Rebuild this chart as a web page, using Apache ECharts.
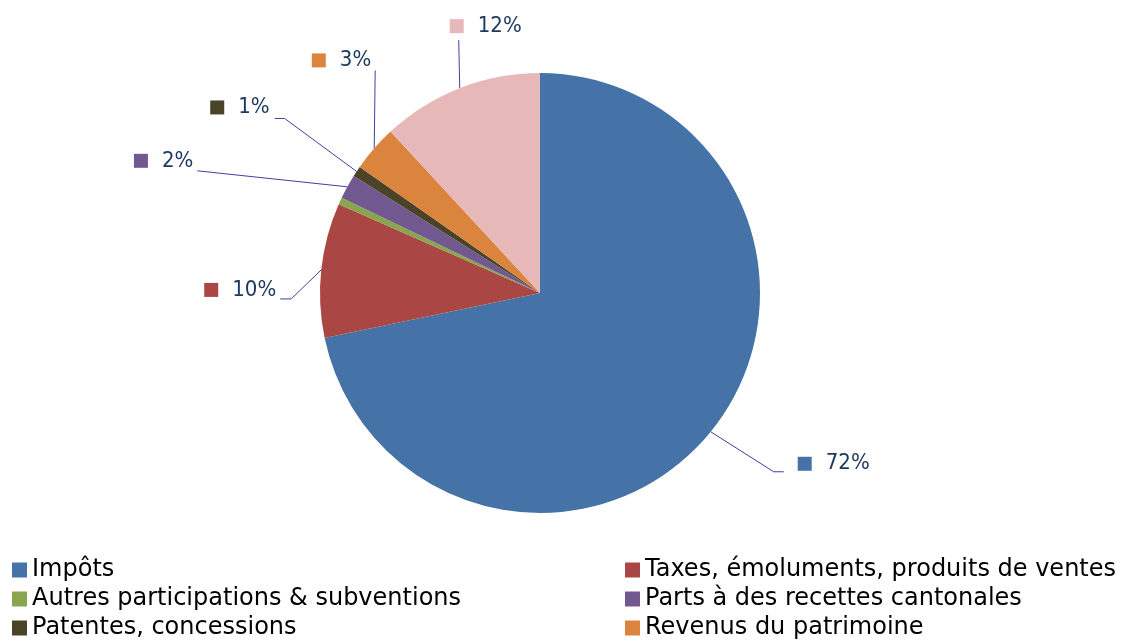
<!DOCTYPE html>
<html><head><meta charset="utf-8">
<script src="https://cdn.jsdelivr.net/npm/echarts@6/dist/echarts.min.js"></script>
<style>html,body{margin:0;padding:0;background:#fff}#c{width:1124px;height:641px}</style>
</head><body><div id="c"></div>
<script>
const categories = ["Impôts","Taxes, émoluments, produits de ventes","Autres participations & subventions","Parts à des recettes cantonales","Patentes, concessions","Revenus du patrimoine","Autres"];
const values = [71.8, 9.9, 0.5, 1.8, 0.8, 3.4, 11.9];
const labels = ["72%","10%","","2%","1%","3%","12%"];
const colors = ["#4572A7","#AA4643","#89A54E","#71588F","#4A4328","#DB843D","#E6B9B8"];
const legendLeft = [categories[0], categories[2], categories[4]];
const legendRight = [categories[1], categories[3], categories[5]];

// leader-line shape relative to the slice edge point: bend offset, end offset, label offset from end, alignment
const leader = [
  {bend:[63,40], end:[73,40], lab:[14,-8], align:'left'},
  {bend:[-30,29], end:[-41,29], lab:[-4,-9], align:'right'},
  null,
  {bend:[-150,-16], end:[-150,-16], lab:[-4,-10], align:'right'},
  {bend:[-72,-53], end:[-82,-53], lab:[-5,-11], align:'right'},
  {bend:[1,-78], end:[1,-78], lab:[-4,-10], align:'right'},
  {bend:[-1,-48], end:[-1,-48], lab:[-9,-14], align:'left'}
];

const labelFont = "'DejaVu Sans Condensed','Liberation Sans Narrow',sans-serif";
const rich = {t:{fontSize:22,color:'#1F3A60',fontFamily:labelFont,padding:[0,0,0,14]}};
colors.forEach((c,i)=>{rich['s'+i]={width:14,height:14,backgroundColor:c};});

const chart = echarts.init(document.getElementById('c'));
const legendCommon = {orient:'vertical',itemWidth:15,itemHeight:15,itemGap:5,icon:'rect',padding:0,height:300,
  textStyle:{fontSize:24,lineHeight:24,color:'#000',fontFamily:'DejaVu Sans'}};
chart.setOption({
  animation:false,
  legend:[Object.assign({left:12,top:558,data:legendLeft},legendCommon),
          Object.assign({left:625,top:558,data:legendRight},legendCommon)],
  series:[{
    type:'pie',center:[540,293],radius:220,startAngle:90,clockwise:true,avoidLabelOverlap:false,
    data:categories.map((n,i)=>({name:n,value:values[i],itemStyle:{color:colors[i]},
      label:{show:labels[i]!==''},labelLine:{show:labels[i]!==''}})),
    label:{position:'outside',formatter:p=>'{s'+p.dataIndex+'|}{t|'+labels[p.dataIndex]+'}',rich:rich},
    labelLine:{length:20,length2:10,lineStyle:{color:'#3F3FA0',width:1}},
    labelLayout:function(p){
      const L = leader[p.dataIndex];
      if(!L || !p.labelLinePoints) return {};
      const s = p.labelLinePoints[0];
      const b = [s[0]+L.bend[0], s[1]+L.bend[1]];
      const e = [s[0]+L.end[0], s[1]+L.end[1]];
      return {x:e[0]+L.lab[0], y:e[1]+L.lab[1], align:L.align, verticalAlign:'middle',
              labelLinePoints:[s,b,e]};
    },
    emphasis:{disabled:true}
  }]
});
</script></body></html>
